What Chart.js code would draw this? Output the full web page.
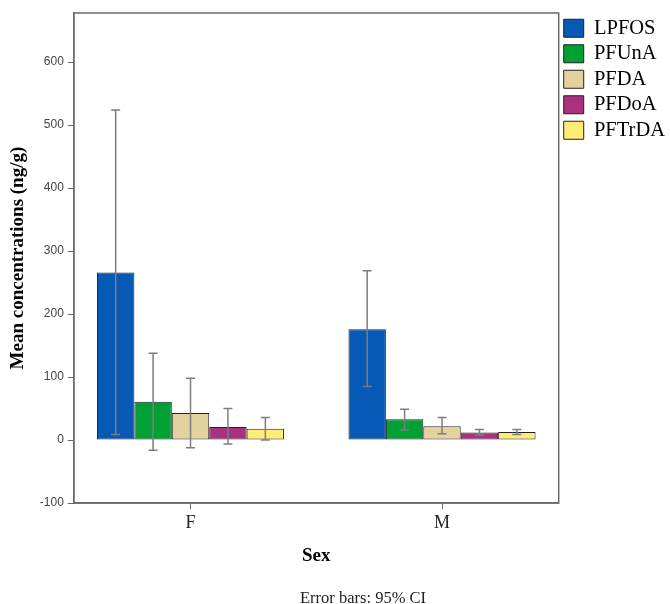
<!DOCTYPE html>
<html>
<head>
<meta charset="utf-8">
<script src="https://cdn.jsdelivr.net/npm/chart.js@4/dist/chart.umd.min.js"></script>
<style>
  html, body { margin: 0; padding: 0; background: #fff; }
  #wrap { width: 670px; height: 604px; }
</style>
</head>
<body>
<div id="wrap"><canvas id="myChart" width="670" height="604"></canvas></div>
<script>
const categories = ['F', 'M'];
const seriesNames = ['LPFOS', 'PFUnA', 'PFDA', 'PFDoA', 'PFTrDA'];
const seriesColors = ['#0659b5', '#00a035', '#e4d29e', '#a8327f', '#ffec75'];

// mean concentrations (ng/g)
const lpfos = [266, 176];
const pfuna = [61, 33];
const pfda = [43, 22];
const pfdoa = [21, 12];
const pftrda = [18, 13];

// 95% CI [low, high]
const lpfosCI = [[9, 524], [85, 269]];
const pfunaCI = [[-16, 138], [16, 49]];
const pfdaCI = [[-12, 98], [10, 36]];
const pfdoaCI = [[-6, 50], [8, 17]];
const pftrdaCI = [[0, 36], [9, 17]];

const yTicks = [-100, 0, 100, 200, 300, 400, 500, 600];
const footnote = 'Error bars: 95% CI';

const serif = '"Liberation Serif", "Times New Roman", serif';
const sans = '"Liberation Sans", Arial, sans-serif';

const values = [lpfos, pfuna, pfda, pfdoa, pftrda];
const cis = [lpfosCI, pfunaCI, pfdaCI, pfdoaCI, pftrdaCI];

const errorBars = {
  id: 'errorBars',
  afterDatasetsDraw(chart) {
    const ctx = chart.ctx;
    const y = chart.scales.y;
    chart.data.datasets.forEach((ds, i) => {
      const meta = chart.getDatasetMeta(i);
      meta.data.forEach((bar, j) => {
        const lo = y.getPixelForValue(ds.ci[j][0]);
        const hi = y.getPixelForValue(ds.ci[j][1]);
        ctx.save();
        ctx.strokeStyle = '#7d7d7d';
        ctx.lineWidth = 1.5;
        ctx.beginPath();
        ctx.moveTo(bar.x, lo); ctx.lineTo(bar.x, hi);
        ctx.moveTo(bar.x - 4.5, lo); ctx.lineTo(bar.x + 4.5, lo);
        ctx.moveTo(bar.x - 4.5, hi); ctx.lineTo(bar.x + 4.5, hi);
        ctx.stroke();
        ctx.restore();
      });
    });
  }
};

// box round the plot + the footnote under the x title
const frame = {
  id: 'frame',
  afterDraw(chart) {
    const { ctx, chartArea: a } = chart;
    ctx.save();
    ctx.strokeStyle = '#6a6a6a';
    ctx.lineWidth = 1.5;
    ctx.strokeRect(a.left, a.top, a.right - a.left, a.bottom - a.top);
    ctx.fillStyle = '#222';
    ctx.font = '16.5px ' + serif;
    ctx.textAlign = 'center';
    ctx.textBaseline = 'middle';
    ctx.fillText(footnote, 363, 599);
    ctx.restore();
  }
};

const ctx = document.getElementById('myChart').getContext('2d');
new Chart(ctx, {
  type: 'bar',
  data: {
    datasets: seriesNames.map((name, i) => ({
      label: name,
      data: values[i].map((v, j) => ({ x: j, y: v })),
      ci: cis[i],
      backgroundColor: seriesColors[i],
      borderColor: '#222',
      borderWidth: 1,
      borderSkipped: false,
      categoryPercentage: 0.744,
      barPercentage: 1,
    })),
  },
  options: {
    responsive: false,
    animation: false,
    layout: { padding: { left: 7, top: 13, right: -5, bottom: 36.5 } },
    scales: {
      x: {
        type: 'linear',
        offset: false,
        min: -0.464,
        max: 1.464,
        afterBuildTicks(scale) {
          scale.ticks = categories.map((c, j) => ({ value: j }));
        },
        grid: { display: true, drawOnChartArea: false, offset: false, tickLength: 6, color: '#6a6a6a' },
        border: { color: '#6a6a6a', width: 1.5 },
        ticks: {
          color: '#222',
          font: { family: serif, size: 18 },
          padding: 3,
          callback: (v) => categories[v],
        },
        title: { display: true, text: 'Sex', color: '#000', font: { family: serif, size: 19, weight: 'bold' }, padding: { top: 8, bottom: 0 } },
      },
      y: {
        min: -100,
        max: 678,
        afterBuildTicks(scale) {
          scale.ticks = yTicks.map(v => ({ value: v }));
        },
        grid: { display: true, drawOnChartArea: false, tickLength: 6, color: '#6a6a6a' },
        border: { color: '#6a6a6a', width: 1.5 },
        ticks: { color: '#444', font: { family: sans, size: 12 }, padding: 4 },
        title: { display: true, text: 'Mean concentrations (ng/g)', color: '#000', font: { family: serif, size: 19, weight: 'bold' }, padding: { top: 0, bottom: 6 } },
      },
    },
    plugins: {
      legend: {
        position: 'right',
        align: 'start',
        labels: {
          boxWidth: 20,
          boxHeight: 18,
          padding: 5,
          color: '#000',
          font: { family: serif, size: 20.5 },
        },
      },
      tooltip: { enabled: false },
    },
  },
  plugins: [errorBars, frame],
});
</script>
</body>
</html>
